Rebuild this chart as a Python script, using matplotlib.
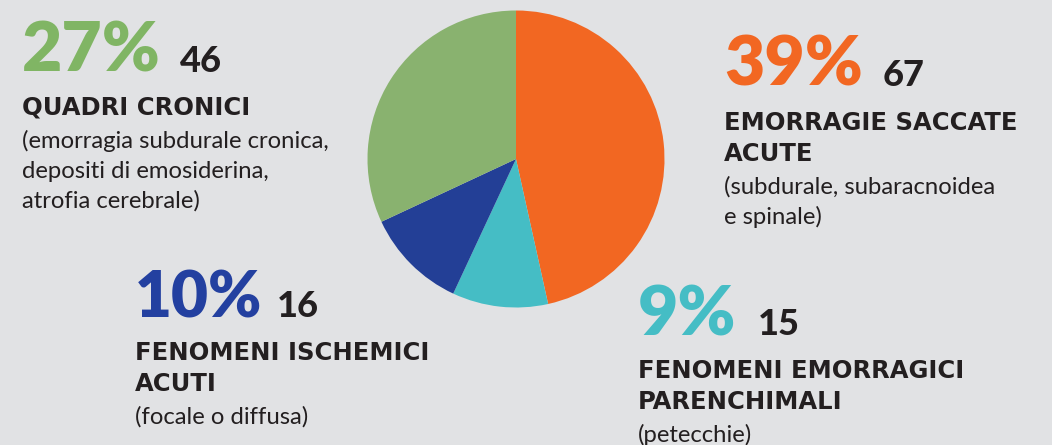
import matplotlib.pyplot as plt

# data
counts = [67, 15, 16, 46]
percents = ['39%', '9%', '10%', '27%']
titles = ['EMORRAGIE SACCATE\nACUTE',
          'FENOMENI EMORRAGICI\nPARENCHIMALI',
          'FENOMENI ISCHEMICI\nACUTI',
          'QUADRI CRONICI']
notes = ['(subdurale, subaracnoidea\ne spinale)',
         '(petecchie)',
         '(focale o diffusa)',
         '(emorragia subdurale cronica,\ndepositi di emosiderina,\natrofia cerebrale)']
colors = ['#f26722', '#45bdc5', '#233f96', '#89b26f']
text_colors = ['#f26722', '#45bdc5', '#2340a0', '#80b564']

# pixel layout of each label block: x, baseline of big %, x of count, baseline of title
blocks = [(724, 86, 883, 130),
          (638, 335, 758, 378),
          (135, 317, 277, 360),
          (22, 72, 180, 115)]
pct_sizes = [50, 50, 46, 50]

W, H = 1052, 445
bg = '#e1e2e4'
dark = '#231f20'
plt.rcParams['font.family'] = ['Lato', 'DejaVu Sans']

fig = plt.figure(figsize=(W / 100, H / 100), dpi=100, facecolor=bg)

# pie
cx, cy, r = 516, 159, 148.5
pax = fig.add_axes([(cx - r) / W, (H - cy - r) / H, 2 * r / W, 2 * r / H])
pax.pie(counts, colors=colors, startangle=90, counterclock=False,
        wedgeprops=dict(linewidth=0))
pax.set_xlim(-1, 1)
pax.set_ylim(-1, 1)
pax.set_aspect('auto')
pax.axis('off')

# text layer in pixel coordinates
tax = fig.add_axes([0, 0, 1, 1])
tax.set_xlim(0, W)
tax.set_ylim(H, 0)
tax.axis('off')
tax.patch.set_alpha(0)

for i in range(len(counts)):
    x, yb, xc, yt = blocks[i]
    tax.text(x, yb, percents[i], color=text_colors[i], fontsize=pct_sizes[i],
             fontweight='heavy', va='baseline', ha='left')
    tax.text(xc, yb, str(counts[i]), color=dark, fontsize=26,
             fontweight='black', va='baseline', ha='left')
    y = yt
    for ln in titles[i].split('\n'):
        tax.text(x, y, ln, color=dark, fontsize=17.5, fontweight='bold',
                 family=['DejaVu Sans'],
                 va='baseline', ha='left')
        y += 31
    y += 2
    for ln in notes[i].split('\n'):
        tax.text(x, y, ln, color=dark, fontsize=17.2, va='baseline', ha='left')
        y += 30

fig.savefig('out.png', dpi=100, facecolor=bg)
